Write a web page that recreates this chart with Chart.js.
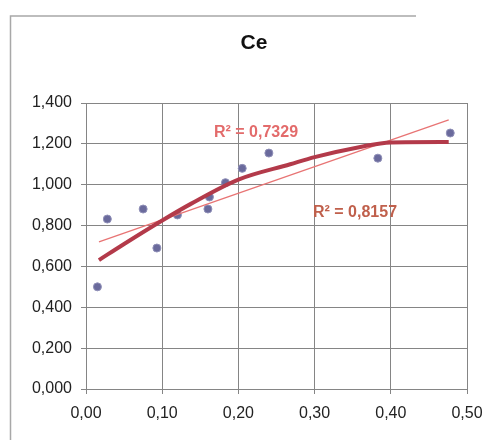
<!DOCTYPE html>
<html>
<head>
<meta charset="utf-8">
<script src="https://cdn.jsdelivr.net/npm/chart.js@4/dist/chart.umd.min.js"></script>
<style>
  html, body { margin: 0; padding: 0; background: #ffffff; }
  #wrap { width: 498px; height: 440px; position: relative; }
</style>
</head>
<body>
<div id="wrap"><canvas id="c" width="498" height="440"></canvas></div>
<script>
// Measured points (x = ratio, y = Ce)
const pointX = [0.015, 0.028, 0.075, 0.093, 0.12, 0.16, 0.162, 0.183, 0.205, 0.240, 0.383, 0.478];
const pointY = [0.500, 0.832, 0.881, 0.690, 0.852, 0.881, 0.940, 1.010, 1.080, 1.155, 1.130, 1.253];

// Linear trendline
const linearX = [0.017, 0.476];
const linearY = [0.720, 1.317];

// Polynomial trendline
const polyX = [0.017, 0.05, 0.10, 0.137, 0.20, 0.268, 0.30, 0.36, 0.40, 0.476];
const polyY = [0.631, 0.710, 0.825, 0.905, 1.025, 1.100, 1.135, 1.185, 1.207, 1.209];

const xTickLabels = ['0,00', '0,10', '0,20', '0,30', '0,40', '0,50'];
const yTickLabels = ['0,000', '0,200', '0,400', '0,600', '0,800', '1,000', '1,200', '1,400'];

const titleText = 'Ce';
const r2Linear = 'R² = 0,7329';
const r2Poly = 'R² = 0,8157';

const toXY = (xs, ys) => xs.map((x, i) => ({ x: x, y: ys[i] }));

const decor = {
  id: 'decor',
  beforeDraw(chart) {
    const ctx = chart.ctx;
    ctx.save();
    ctx.fillStyle = '#ffffff';
    ctx.fillRect(0, 0, chart.width, chart.height);
    ctx.strokeStyle = '#a8a8a8';
    ctx.lineWidth = 1.5;
    ctx.beginPath();
    ctx.moveTo(10.5, 440);
    ctx.lineTo(10.5, 16);
    ctx.lineTo(416, 16);
    ctx.stroke();
    ctx.restore();
  },
  afterDatasetsDraw(chart) {
    const ctx = chart.ctx;
    ctx.save();
    ctx.textBaseline = 'middle';
    ctx.textAlign = 'center';
    ctx.fillStyle = '#111111';
    ctx.font = 'bold 21px "Liberation Sans", Arial, sans-serif';
    ctx.fillText(titleText, 254, 43);
    ctx.textAlign = 'left';
    ctx.font = 'bold 16px "Liberation Sans", Arial, sans-serif';
    ctx.fillStyle = '#e36b6b';
    ctx.fillText(r2Linear, 214, 133);
    ctx.fillStyle = '#c0604c';
    ctx.fillText(r2Poly, 313, 213);
    ctx.restore();
  }
};

new Chart(document.getElementById('c'), {
  type: 'scatter',
  data: {
    datasets: [
      {
        label: 'Linear',
        type: 'line',
        data: toXY(linearX, linearY),
        borderColor: '#e87474',
        borderWidth: 1.3,
        pointRadius: 0,
        fill: false,
        order: 2
      },
      {
        label: 'Polynomial',
        type: 'line',
        data: toXY(polyX, polyY),
        borderColor: '#b33a4a',
        borderWidth: 4,
        pointRadius: 0,
        cubicInterpolationMode: 'monotone',
        fill: false,
        order: 1
      },
      {
        label: 'Ce',
        data: toXY(pointX, pointY),
        pointRadius: 4,
        pointBackgroundColor: '#6a6a9c',
        pointBorderColor: '#9090b8',
        pointBorderWidth: 1,
        order: 3
      }
    ]
  },
  options: {
    responsive: false,
    animation: false,
    layout: { padding: { top: 103, right: 31, bottom: 0, left: 0 } },
    plugins: {
      legend: { display: false },
      title: { display: false },
      tooltip: { enabled: false }
    },
    scales: {
      x: {
        type: 'linear',
        min: 0, max: 0.5,
        ticks: {
          stepSize: 0.1,
          padding: 10,
          color: '#222222',
          font: { size: 16, family: '"Liberation Sans", Arial, sans-serif' },
          callback: (v, i) => xTickLabels[i]
        },
        grid: { color: '#858585', lineWidth: 1, tickLength: 5 },
        border: { color: '#858585', width: 1 },
        afterFit: (s) => { s.height = 51; }
      },
      y: {
        type: 'linear',
        min: 0, max: 1.4,
        ticks: {
          stepSize: 0.2,
          padding: 9,
          color: '#222222',
          font: { size: 16, family: '"Liberation Sans", Arial, sans-serif' },
          callback: (v, i) => yTickLabels[i]
        },
        grid: { color: '#858585', lineWidth: 1, tickLength: 5 },
        border: { color: '#858585', width: 1 },
        afterFit: (s) => { s.width = 86; }
      }
    }
  },
  plugins: [decor]
});
</script>
</body>
</html>
